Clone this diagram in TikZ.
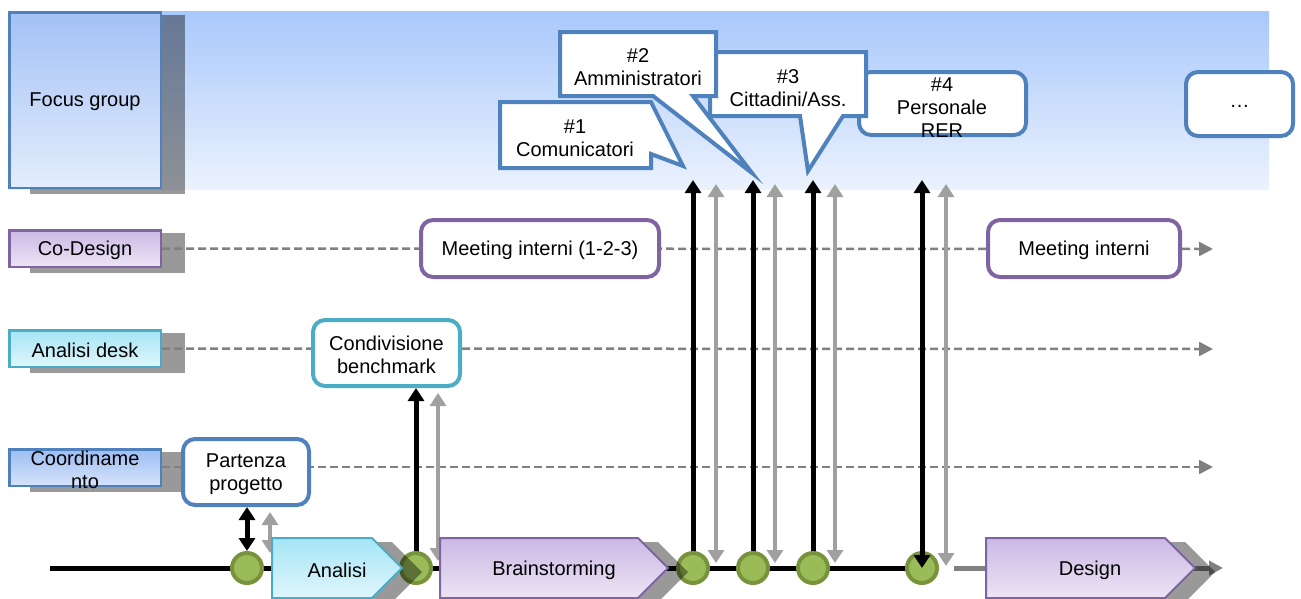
\documentclass[tikz,border=0pt]{standalone}
\usepackage{fontspec}
\setmainfont{Liberation Sans}
\usetikzlibrary{arrows.meta}
\definecolor{fgblue}{HTML}{4F81BD}
\definecolor{cdpurple}{HTML}{8064A2}
\definecolor{adcyan}{HTML}{4BACC6}
\definecolor{gfill}{HTML}{9BBB59}
\definecolor{gedge}{HTML}{77933C}
\definecolor{dashgray}{HTML}{808080}
\definecolor{arrgray}{HTML}{A0A0A0}
\definecolor{bandtop}{HTML}{A9C8FB}
\definecolor{bandbot}{HTML}{EBF2FD}
\definecolor{fgtop}{HTML}{A3C1F5}
\definecolor{fgbot}{HTML}{E4EDFC}
\definecolor{cdtop}{HTML}{CBB8E4}
\definecolor{cdbot}{HTML}{ECE5F5}
\definecolor{adtop}{HTML}{A5E5F5}
\definecolor{adbot}{HTML}{E0F6FC}
\definecolor{cotop}{HTML}{9DBDF2}
\definecolor{cobot}{HTML}{D6E3FA}
\begin{document}
\begin{tikzpicture}[x=1pt,y=-1pt,
  txt/.style={font=\fontsize{20}{23}\selectfont, align=center, inner sep=0pt, yshift=-2pt},
  lblbox/.style={draw=#1, line width=2.5pt, inner sep=0pt, minimum width=151.5pt},
  shadowfill/.style={fill=black, opacity=0.4},
  rbox/.style={draw=#1, line width=4pt, fill=white, rounded corners=12pt, inner sep=0pt},
  callout/.style={draw=fgblue, line width=4pt, fill=white, miter limit=10},
  dashline/.style={draw=dashgray, line width=2.5pt, dash pattern=on 8pt off 4pt, -{Triangle[width=14pt,length=14pt]}},
  blackarr/.style={draw=black, line width=5pt, {Triangle[width=16pt,length=13pt]}-{Triangle[width=16pt,length=13pt]}},
  grayarr/.style={draw=arrgray, line width=4.5pt, {Triangle[width=16pt,length=13pt]}-{Triangle[width=16pt,length=13pt]}},
  milestone/.style={circle, fill=gfill, draw=gedge, line width=4pt, minimum size=30pt, inner sep=0pt},
  chevron/.style={draw=#1, line width=2pt},
]
\useasboundingbox (0,0) rectangle (1301,598);

% focus group band
\shade[top color=bandtop, bottom color=bandbot] (8,11) rectangle (1269,189);

% focus group label
\fill[shadowfill] (30,15) rectangle (185,194);
\node[lblbox=fgblue, top color=fgtop, bottom color=fgbot, minimum height=175.5pt] (fg) at (85,100) {};
\node[txt] (fgT) at (fg) {Focus group};

% callouts
\node[rbox=fgblue, minimum width=167pt, minimum height=63pt] (n4box) at (942.5,103.5) {};
\node[txt] (n4) at (942,105.5) {\#4\\Personale\\RER};
\node[rbox=fgblue, minimum width=107pt, minimum height=64pt] (more) at (1239.5,104) {};
\node[txt] (moreT) at (more) {…};

\draw[callout] (710,52) -- (866,52) -- (866,116) -- (843,116) -- (808,171) -- (800,116) -- (710,116) -- cycle;
\node[txt] (n3) at (788,86.5) {\#3\\Cittadini/Ass.};
\draw[callout] (560,32) -- (716,32) -- (716,96) -- (693,96) -- (752,173) -- (653,96) -- (560,96) -- cycle;
\node[txt] (n2) at (638,65.5) {\#2\\Amministratori};
\draw[callout] (500,102) -- (651,102) -- (683,166) -- (651,154) -- (651,168) -- (500,168) -- cycle;
\node[txt] (n1) at (575,136) {\#1\\Comunicatori};

% lane labels
\fill[shadowfill] (30,233) rectangle (185,273);
\node[lblbox=cdpurple, top color=cdtop, bottom color=cdbot, minimum height=36.5pt] (cd) at (85,248.5) {};
\node[txt] (cdT) at (cd) {Co-Design};

\fill[shadowfill] (30,333) rectangle (185,373);
\node[lblbox=adcyan, top color=adtop, bottom color=adbot, minimum height=36.5pt] (ad) at (85,348.5) {};
\node[txt] (adT) at (ad) {Analisi desk};

\fill[shadowfill] (30,452) rectangle (185,492);
\node[lblbox=fgblue, top color=cotop, bottom color=cobot, minimum height=36.5pt] (co) at (85,467.5) {};
\node[txt] (coT) at (85,468) {Coordiname\\nto};

% dashed lanes
\coordinate (cdEnd) at (1213,249);
\coordinate (adEnd) at (1213,349);
\coordinate (coEnd) at (1213,467);
\draw[dashline] (cd.east) -- (cdEnd);
\draw[dashline] (ad.east) -- (adEnd);
\draw[dashline] (co.east |- coEnd) -- (coEnd);

% lane boxes
\node[rbox=cdpurple, minimum width=238pt, minimum height=57pt] (mi1) at (540,248.5) {};
\node[txt] (mi1T) at (mi1) {Meeting interni (1-2-3)};
\node[rbox=cdpurple, minimum width=192pt, minimum height=57pt] (mi2) at (1084,248.5) {};
\node[txt] (mi2T) at (mi2) {Meeting interni};
\node[rbox=adcyan, minimum width=147pt, minimum height=66pt] (cb) at (386.5,353) {};
\node[txt] (cbT) at (cb) {Condivisione\\benchmark};
\node[rbox=fgblue, minimum width=126pt, minimum height=66pt] (pp) at (246,472) {};
\node[txt] (ppT) at (pp) {Partenza\\progetto};

% timeline
\coordinate (tlStart) at (50,568);
\coordinate (glStart) at (954,568);
\coordinate (glEnd) at (1223,568);
\draw[dashgray, line width=5pt, -{Triangle[width=14pt,length=14pt]}] (glStart) -- (glEnd);

% milestones (positions)
\coordinate (m1) at (247,568);
\coordinate (m2) at (416,568);
\coordinate (m3) at (693,568);
\coordinate (m4) at (753,568);
\coordinate (m5) at (813,568);
\coordinate (m6) at (922,568);
\draw[black, line width=5pt] (tlStart) -- (m6);

% arrow end coordinates
\coordinate (top3) at (693,180);
\coordinate (top4) at (753,180);
\coordinate (top5) at (813,180);
\coordinate (top6) at (922,180);
\coordinate (g1a) at (270,512); \coordinate (g1b) at (270,553);
\coordinate (g2a) at (438,393); \coordinate (g2b) at (438,561);
\coordinate (g3a) at (716,184); \coordinate (g3b) at (716,563);
\coordinate (g4a) at (775,184); \coordinate (g4b) at (775,563);
\coordinate (g5a) at (835,184); \coordinate (g5b) at (835,563);
\coordinate (g6a) at (946,184); \coordinate (g6b) at (946,566);

% gray arrows
\draw[grayarr] (g1a) -- (g1b);
\draw[grayarr] (g2a) -- (g2b);
\draw[grayarr] (g3a) -- (g3b);
\draw[grayarr] (g4a) -- (g4b);
\draw[grayarr] (g5a) -- (g5b);
\draw[grayarr] (g6a) -- (g6b);

% black arrows
\draw[blackarr] (m2) -- (m2 |- cb.south);
\draw[blackarr] (m3) -- (top3);
\draw[blackarr] (m4) -- (top4);
\draw[blackarr] (m5) -- (top5);

% milestone circles
\node[milestone] (c1) at (m1) {};
\node[milestone] (c2) at (m2) {};
\node[milestone] (c3) at (m3) {};
\node[milestone] (c4) at (m4) {};
\node[milestone] (c5) at (m5) {};
\draw[blackarr] (c1.north) -- (c1.north |- pp.south);

% phases
\begin{scope}[shift={(20,4)}]
\fill[shadowfill] (272,538) -- (372,538) -- (402,568) -- (372,598) -- (272,598) -- cycle;
\fill[shadowfill] (440,538) -- (638,538) -- (668,568) -- (638,598) -- (440,598) -- cycle;
\fill[shadowfill] (986,538) -- (1165,538) -- (1195,568) -- (1165,598) -- (986,598) -- cycle;
\end{scope}
\shadedraw[chevron=adcyan, top color=adtop, bottom color=adbot] (272,538) -- (372,538) -- (402,568) -- (372,598) -- (272,598) -- cycle;
\node[txt] (an) at (337,568) {Analisi};
\shadedraw[chevron=cdpurple, top color=cdtop, bottom color=cdbot] (440,538) -- (638,538) -- (668,568) -- (638,598) -- (440,598) -- cycle;
\node[txt] (bs) at (554,568) {Brainstorming};
\shadedraw[chevron=cdpurple, top color=cdtop, bottom color=cdbot] (986,538) -- (1165,538) -- (1195,568) -- (1165,598) -- (986,598) -- cycle;
\node[txt] (ds) at (1090,568) {Design};

% last milestone
\node[milestone] (c6) at (m6) {};
\draw[blackarr] (c6.center) -- (top6);
\end{tikzpicture}
\end{document}
